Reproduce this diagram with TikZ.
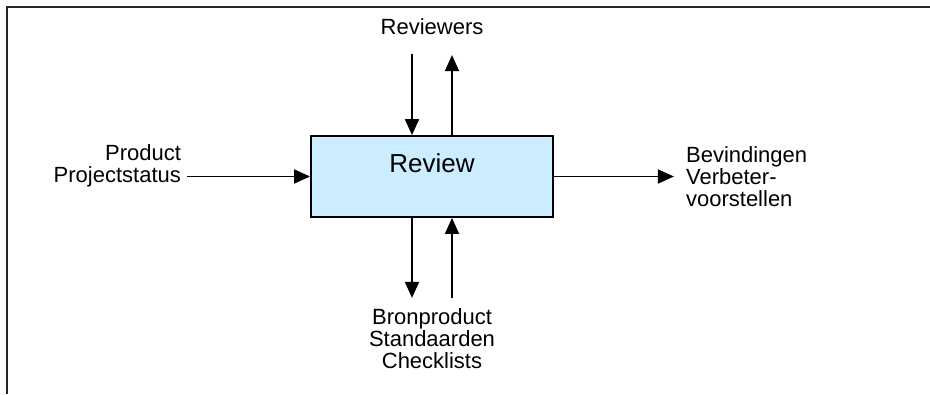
\documentclass[tikz,border=0pt]{standalone}
\usepackage{fontspec}
\setmainfont{Liberation Sans}
\usepackage{tikz}
\usetikzlibrary{positioning,arrows.meta}
\definecolor{revblue}{RGB}{204,236,255}

\begin{document}
\begin{tikzpicture}[
  x=1pt, y=-1pt,
  procbox/.style={rectangle, draw=black, fill=revblue, line width=1.8pt, minimum width=242pt, minimum height=81pt, font=\fontsize{26}{30}\selectfont, text height=19pt, text depth=26.6pt},
  lbl/.style={inner sep=0pt, font=\fontsize{22}{22}\selectfont, text=black},
  arrow/.style={-{Triangle[length=16pt,width=14pt]}, line width=1.8pt, draw=black},
]
  \useasboundingbox (0,0) rectangle (930,394);
  \draw[line width=1.8pt, black!85] (7,394) -- (7,7) -- (930,7);

  \node[procbox] (review) at (432,176.5) {Review};

  \coordinate (revtopl) at ([xshift=-20pt]review.north);
  \coordinate (revtopr) at ([xshift=20pt]review.north);
  \coordinate (revbotl) at ([xshift=-20pt]review.south);
  \coordinate (revbotr) at ([xshift=20pt]review.south);
  \coordinate[above=81pt of revtopl] (reviewin);
  \coordinate[above=80pt of revtopr] (reviewout);
  \coordinate[below=80pt of revbotl] (sourceout);
  \coordinate[below=80pt of revbotr] (sourcein);
  \coordinate[left=123pt of review.west] (productin);
  \coordinate[right=120pt of review.east] (findingsout);

  \draw[arrow] (reviewin) -- (revtopl);
  \draw[arrow] (revtopr) -- (reviewout);
  \draw[arrow] (revbotl) -- (sourceout);
  \draw[arrow] (sourcein) -- (revbotr);
  \draw[arrow] (productin) -- (review.west);
  \draw[arrow] (review.east) -- (findingsout);

  \node[lbl, anchor=south] (reviewers) at ([yshift=100pt]review.north) {Reviewers};
  \node[lbl, align=right, left=6pt of productin, yshift=11pt] (product) {Product\\Projectstatus};
  \node[lbl, align=left, right=12pt of findingsout] (findings) {Bevindingen\\Verbeter-\\voorstellen};
  \node[lbl, align=center, anchor=north] (sources) at ([yshift=-90pt]review.south) {Bronproduct\\Standaarden\\Checklists};
\end{tikzpicture}
\end{document}
